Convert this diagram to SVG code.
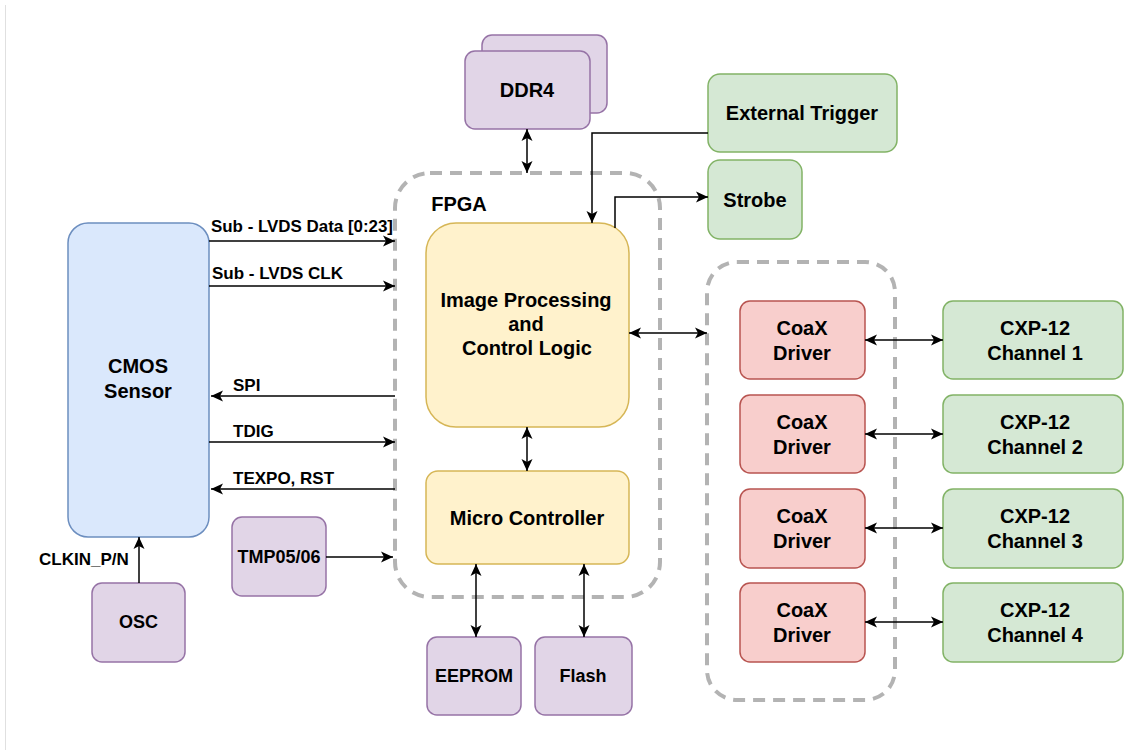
<svg xmlns="http://www.w3.org/2000/svg" width="1124" height="751" viewBox="0 0 1124 751">
<style>
text{font-family:"Liberation Sans",Arial,sans-serif;font-weight:bold;fill:#000;text-anchor:middle}
.t20{font-size:20px}
.t18{font-size:18px}
.lbl{font-size:17px;text-anchor:start}
.blue{fill:#dae8fc;stroke:#6c8ebf;stroke-width:1.5}
.purple{fill:#e1d5e7;stroke:#9673a6;stroke-width:1.5}
.green{fill:#d5e8d4;stroke:#82b366;stroke-width:1.5}
.red{fill:#f8cecc;stroke:#b85450;stroke-width:1.5}
.yellow{fill:#fff2cc;stroke:#d6b656;stroke-width:1.5}
.dash{fill:none;stroke:#b3b3b3;stroke-width:4;stroke-dasharray:12 8}
.c{fill:none;stroke:#000;stroke-width:1.5}
.one{marker-end:url(#arr)}
.two{marker-start:url(#arr);marker-end:url(#arr)}
</style>
<defs>
<marker id="arr" markerUnits="userSpaceOnUse" markerWidth="12" markerHeight="12" viewBox="0 0 12 12" refX="12" refY="6" orient="auto-start-reverse">
<path d="M0,0.5 L12,6 L0,11.5 L3,6 Z" fill="#000"/>
</marker>
</defs>
<rect width="1124" height="751" fill="#fff"/>
<line x1="5.5" y1="5" x2="5.5" y2="750" stroke="#e0e0e0" stroke-width="1"/>

<g id="fpga-container">
<rect class="dash" x="395" y="173" width="265" height="424" rx="35"/>
<text class="t20" x="459" y="211">FPGA</text>
</g>
<g id="coax-container">
<rect class="dash" x="707" y="262" width="188" height="438" rx="30"/>
</g>

<g id="cmos">
<rect class="blue" x="68" y="223" width="141" height="314" rx="20"/>
<text class="t20" x="138" y="373">CMOS</text>
<text class="t20" x="138" y="398">Sensor</text>
</g>
<g id="osc">
<rect class="purple" x="92" y="583" width="93" height="79" rx="10"/>
<text class="t18" x="138.5" y="628">OSC</text>
</g>
<g id="tmp">
<rect class="purple" x="232" y="517" width="94" height="79" rx="10"/>
<text class="t18" x="279" y="563">TMP05/06</text>
</g>
<g id="ddr4">
<rect class="purple" x="482" y="35" width="125" height="78" rx="10"/>
<rect class="purple" x="465" y="51" width="125" height="78" rx="10"/>
<text class="t20" x="527" y="97">DDR4</text>
</g>
<g id="image-processing">
<rect class="yellow" x="426" y="223" width="203" height="204" rx="30"/>
<text class="t20" x="526" y="307">Image Processing</text>
<text class="t20" x="526" y="331">and</text>
<text class="t20" x="527" y="355">Control Logic</text>
</g>
<g id="micro-controller">
<rect class="yellow" x="426" y="471" width="203" height="93" rx="12"/>
<text class="t20" x="527" y="525">Micro Controller</text>
</g>
<g id="eeprom">
<rect class="purple" x="427" y="637" width="94" height="78" rx="10"/>
<text class="t18" x="474" y="682">EEPROM</text>
</g>
<g id="flash">
<rect class="purple" x="535" y="637" width="97" height="78" rx="10"/>
<text class="t18" x="583" y="682">Flash</text>
</g>
<g id="external-trigger">
<rect class="green" x="708" y="74" width="189" height="78" rx="12"/>
<text class="t20" x="802" y="120">External Trigger</text>
</g>
<g id="strobe">
<rect class="green" x="708" y="160" width="94" height="79" rx="12"/>
<text class="t20" x="755" y="207">Strobe</text>
</g>

<g id="coax1">
<rect class="red" x="740" y="301" width="125" height="78" rx="10"/>
<text class="t20" x="802" y="335">CoaX</text>
<text class="t20" x="802" y="360">Driver</text>
</g>
<g id="coax2">
<rect class="red" x="740" y="395" width="125" height="78" rx="10"/>
<text class="t20" x="802" y="429">CoaX</text>
<text class="t20" x="802" y="454">Driver</text>
</g>
<g id="coax3">
<rect class="red" x="740" y="489" width="125" height="79" rx="10"/>
<text class="t20" x="802" y="523">CoaX</text>
<text class="t20" x="802" y="548">Driver</text>
</g>
<g id="coax4">
<rect class="red" x="740" y="583" width="125" height="79" rx="10"/>
<text class="t20" x="802" y="617">CoaX</text>
<text class="t20" x="802" y="642">Driver</text>
</g>

<g id="cxp1">
<rect class="green" x="943" y="301" width="180" height="78" rx="10"/>
<text class="t20" x="1035" y="335">CXP-12</text>
<text class="t20" x="1035" y="360">Channel 1</text>
</g>
<g id="cxp2">
<rect class="green" x="943" y="395" width="180" height="78" rx="10"/>
<text class="t20" x="1035" y="429">CXP-12</text>
<text class="t20" x="1035" y="454">Channel 2</text>
</g>
<g id="cxp3">
<rect class="green" x="943" y="489" width="180" height="79" rx="10"/>
<text class="t20" x="1035" y="523">CXP-12</text>
<text class="t20" x="1035" y="548">Channel 3</text>
</g>
<g id="cxp4">
<rect class="green" x="943" y="583" width="180" height="79" rx="10"/>
<text class="t20" x="1035" y="617">CXP-12</text>
<text class="t20" x="1035" y="642">Channel 4</text>
</g>

<g id="connectors">
<path class="c one" d="M209,241 L395,241"/>
<path class="c one" d="M209,286 L395,286"/>
<path class="c one" d="M395,396 L211,396"/>
<path class="c one" d="M209,442 L395,442"/>
<path class="c one" d="M395,489 L211,489"/>
<path class="c one" d="M326,557 L393,557"/>
<path class="c one" d="M139,583 L139,537"/>
<path class="c two" d="M527,129 L527,173"/>
<path class="c one" d="M708,133 L592,133 L592,223"/>
<path class="c one" d="M615,228 L615,197 L708,197"/>
<path class="c two" d="M629,333 L707,333"/>
<path class="c two" d="M527,427 L527,471"/>
<path class="c two" d="M476,564 L476,637"/>
<path class="c two" d="M584,564 L584,637"/>
<path class="c two" d="M865,340 L943,340"/>
<path class="c two" d="M865,434 L943,434"/>
<path class="c two" d="M865,528 L943,528"/>
<path class="c two" d="M865,622 L943,622"/>
<text class="lbl" x="211" y="232" textLength="182" lengthAdjust="spacingAndGlyphs">Sub - LVDS Data [0:23]</text>
<text class="lbl" x="212" y="279">Sub - LVDS CLK</text>
<text class="lbl" x="233" y="391">SPI</text>
<text class="lbl" x="233" y="437">TDIG</text>
<text class="lbl" x="233" y="484">TEXPO, RST</text>
<text class="lbl" x="39" y="565">CLKIN_P/N</text>
</g>
</svg>
